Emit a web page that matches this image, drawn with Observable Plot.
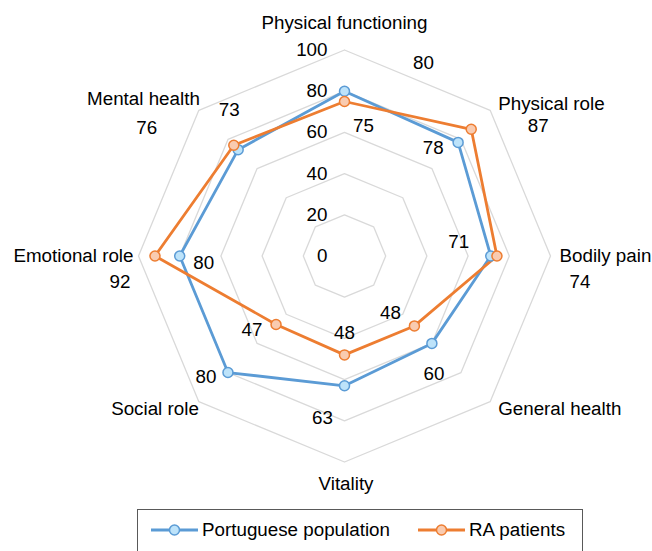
<!DOCTYPE html>
<html>
<head>
<meta charset="utf-8">
<script src="https://cdn.jsdelivr.net/npm/d3@7"></script>
<script src="https://cdn.jsdelivr.net/npm/@observablehq/plot@0.6"></script>
<style>
  body { margin: 0; background: #fff; font-family: "Liberation Sans", Arial, sans-serif; }
  #chart svg { display: block; }
  .legend { position: relative; margin-left: 137px; margin-top: 4px; width: 446px; height: 44px; border: 1px solid #595959; box-sizing: border-box; font-size: 18.8px; color: #000; }
  .legend .item { position: absolute; top: 9px; display: flex; align-items: center; }
  .legend svg { display: block; margin-right: 4px; }
</style>
</head>
<body>
<div id="chart"></div>
<script>
// ---- data ----
const axes = ["Physical functioning", "Physical role", "Bodily pain", "General health", "Vitality", "Social role", "Emotional role", "Mental health"];
const portuguese = [80, 78, 71, 60, 63, 80, 80, 73];
const raPatients = [75, 87, 74, 48, 48, 47, 92, 76];
const seriesNames = ["Portuguese population", "RA patients"];
const ticks = [0, 20, 40, 60, 80, 100];

// ---- layout / style (not data) ----
const W = 652, H = 505, CX = 344, CY = 255.5, K = 2.06; // px per unit
const FS = 18.8;
const colors = ["#5b9bd5", "#ed7d31"];
const fills = ["#bde3fa", "#f9cbb0"];
// pixel offsets of value labels from their points
const labelOffsets = [
  [[79, -28], [-25, 6], [-32, -14], [2, 31], [-22, 32], [-22, 4], [24, 7], [-9, -40]],
  [[19, 24], [67, -3], [83, 26], [-24, -13], [0, -22], [-24, 6], [-35, 26], [-87, -17]]
];
// pixel offsets and anchors of axis names from the 100 vertex
const axisLabelOffsets = [[0, -27.5], [8, -6], [9, 0], [8, 7], [1.5, 21.5], [0, 7], [-5, 0], [1, -11.5]];
const axisLabelAnchors = ["middle", "start", "start", "start", "middle", "end", "end", "end"];

const n = axes.length;
const ang = i => i * 2 * Math.PI / n;
const px = (i, v) => v * Math.sin(ang(i));
const py = (i, v) => v * Math.cos(ang(i));

const rings = ticks.filter(t => t > 0).flatMap(t =>
  d3.range(n + 1).map(j => ({ ring: t, x: px(j % n, t), y: py(j % n, t) })));

const seriesVals = [portuguese, raPatients];
const pts = seriesVals.flatMap((vals, s) => vals.map((v, i) => ({
  s, i, v, x: px(i, v), y: py(i, v),
  lx: px(i, v) + labelOffsets[s][i][0] / K,
  ly: py(i, v) - labelOffsets[s][i][1] / K
})));
const loops = seriesVals.map((vals, s) => d3.range(n + 1).map(j => ({ s, x: px(j % n, vals[j % n]), y: py(j % n, vals[j % n]) })));

const axisLabels = axes.map((a, i) => ({
  name: a, anchor: axisLabelAnchors[i],
  x: px(i, 100) + axisLabelOffsets[i][0] / K,
  y: py(i, 100) - axisLabelOffsets[i][1] / K
}));

const font = "Liberation Sans, Arial, sans-serif";
const marks = [
  Plot.line(rings, { x: "x", y: "y", z: "ring", stroke: "#d9d9d9", strokeWidth: 1.3 }),
  Plot.text(ticks, { x: 0, y: d => d, dx: -17, text: d => String(d), textAnchor: "end", fontSize: FS, fill: "#000" }),
  ...loops.map((l, s) => Plot.line(l, { x: "x", y: "y", stroke: colors[s], strokeWidth: 2.8, strokeLinejoin: "round" })),
  ...[0, 1].map(s => Plot.dot(pts.filter(d => d.s === s), { x: "x", y: "y", r: 5, fill: fills[s], stroke: colors[s], strokeWidth: 1.5 })),
  Plot.text(pts, { x: "lx", y: "ly", text: d => String(d.v), fontSize: FS, fill: "#000" }),
  ...["start", "middle", "end"].map(an => Plot.text(axisLabels.filter(d => d.anchor === an), { x: "x", y: "y", text: "name", textAnchor: an, fontSize: FS, fill: "#000" }))
];

const chart = Plot.plot({
  width: W, height: H,
  margin: 0,
  style: { fontFamily: font, background: "#fff", overflow: "visible" },
  x: { domain: [-CX / K, (W - CX) / K], range: [0, W], axis: null },
  y: { domain: [-(H - CY) / K, CY / K], range: [H, 0], axis: null },
  marks
});
document.getElementById("chart").appendChild(chart);

// legend
const legend = document.createElement("div");
legend.className = "legend";
const itemLefts = [13, 280];
seriesNames.forEach((name, s) => {
  const item = document.createElement("div");
  item.className = "item";
  item.style.left = itemLefts[s] + "px";
  item.innerHTML = `<svg width="47" height="14"><line x1="0" y1="7" x2="47" y2="7" stroke="${colors[s]}" stroke-width="2.8"/><circle cx="23.5" cy="7" r="5" fill="${fills[s]}" stroke="${colors[s]}" stroke-width="1.5"/></svg><span>${name}</span>`;
  legend.appendChild(item);
});
document.body.appendChild(legend);
</script>
</body>
</html>
